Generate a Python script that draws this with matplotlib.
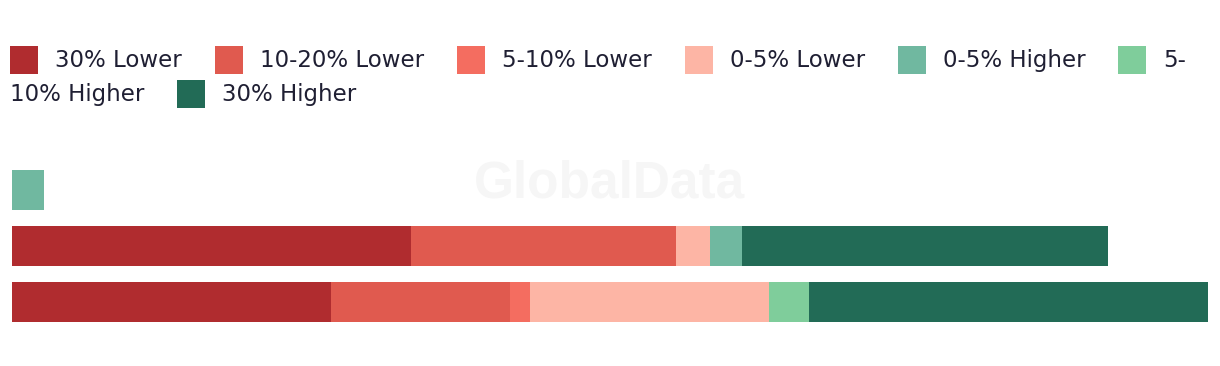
import matplotlib
matplotlib.use("Agg")
import matplotlib.pyplot as plt
from matplotlib.patches import Rectangle
import numpy as np

# rows, top to bottom (no visible labels in the chart)
rows = ["Row 1", "Row 2", "Row 3"]

series_names = ["30% Lower", "10-20% Lower", "5-10% Lower", "0-5% Lower",
                "0-5% Higher", "5-10% Higher", "30% Higher"]
series_colors = ["#b02c2f", "#e05a4f", "#f46d60", "#fdb5a5",
                 "#70b8a0", "#7fcd9b", "#226b56"]

lower_30 = [0, 12, 9.6]
lower_10_20 = [0, 8, 5.4]
lower_5_10 = [0, 0, 0.6]
lower_0_5 = [0, 1.02, 7.2]
higher_0_5 = [0.96, 0.96, 0]
higher_5_10 = [0, 0, 1.2]
higher_30 = [0, 11.0, 12.0]

series_values = [lower_30, lower_10_20, lower_5_10, lower_0_5,
                 higher_0_5, higher_5_10, higher_30]

W, H = 1220, 366
fig = plt.figure(figsize=(W / 100, H / 100), dpi=100)
fig.patch.set_facecolor("white")

# axes spanning pixels x 12..1208, y 160..340
ax = fig.add_axes([12 / W, 1 - 340 / H, 1196 / W, 180 / H])
ax.set_facecolor("none")

y = np.arange(len(rows))
left = np.zeros(len(rows))
for name, vals, col in zip(series_names, series_values, series_colors):
    vals = np.array(vals, dtype=float)
    ax.barh(y, vals, left=left, height=40 / 56, color=col, label=name,
            linewidth=0, zorder=2)
    left += vals

ax.set_xlim(0, 36)
ax.set_ylim(2 + 38 / 56, -30 / 56)
ax.axis("off")

# watermark
ax.text(610 / W, 1 - 184 / H, "GlobalData", transform=fig.transFigure,
        ha="center", va="center", fontsize=37, fontweight="bold",
        family="Liberation Sans", color="#f6f6f6", zorder=0)

# wrapped legend, laid out like html inline items
fig.canvas.draw()
renderer = fig.canvas.get_renderer()
txt_kw = dict(fontsize=16.5, color="#1f1f33", family="DejaVu Sans", va="baseline", ha="left")

def text_width(s):
    t = fig.text(0, 0, s, **txt_kw)
    w = t.get_window_extent(renderer).width
    t.remove()
    return w

sq, gap1, gap2 = 28, 17, 33
x0, xmax = 10, 1212
row_c = [60, 94]  # square centres, px from top
line = 0
x = x0

def put_square(px, col):
    cy = row_c[line]
    fig.add_artist(Rectangle((px / W, 1 - (cy + sq / 2) / H), sq / W, sq / H,
                             transform=fig.transFigure, color=col, lw=0))

def put_text(px, s):
    fig.text(px / W, 1 - (row_c[line] + 6.7) / H, s, **txt_kw)

for name, col in zip(series_names, series_colors):
    w = text_width(name)
    if x + sq + gap1 + w <= xmax:
        put_square(x, col)
        put_text(x + sq + gap1, name)
        x += sq + gap1 + w + gap2
        continue
    if "-" in name:
        head, tail = name.split("-", 1)
        head += "-"
        wh = text_width(head)
        if x + sq + gap1 + wh <= xmax:
            put_square(x, col)
            put_text(x + sq + gap1, head)
            line += 1
            x = x0
            put_text(x, tail)
            x += text_width(tail) + gap2
            continue
    line += 1
    x = x0
    put_square(x, col)
    put_text(x + sq + gap1, name)
    x += sq + gap1 + w + gap2

fig.savefig("out.png", dpi=100, facecolor="white")
